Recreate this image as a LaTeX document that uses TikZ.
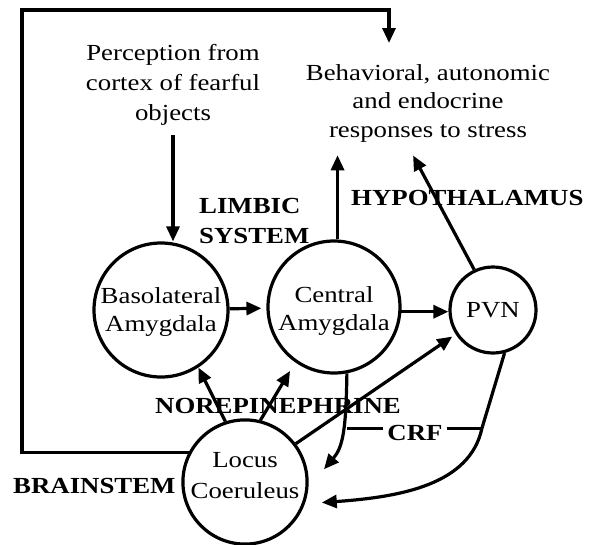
\documentclass[tikz,border=0pt]{standalone}
\usepackage{fontspec}
\setmainfont{Liberation Serif}[FakeStretch=1.165]
\usetikzlibrary{arrows.meta}
\begin{document}
\begin{tikzpicture}[x=1pt,y=-1pt,
  every node/.style={font=\fontsize{23}{28}\selectfont, inner sep=0pt},
  region/.style={circle, draw, line width=3.2pt, align=center},
  heading/.style={font=\fontsize{23}{30}\selectfont\bfseries},
  link/.style={line width=3.2pt},
  arr/.style={link, -{Triangle[length=15pt,width=13pt]}},
]
\useasboundingbox (0,0) rectangle (589,544);

% text blocks
\node[anchor=north, align=center, font=\fontsize{23}{30}\selectfont] (perc) at (173,44)
  {Perception from\\cortex of fearful\\objects};
\node[anchor=north, align=center, font=\fontsize{23}{28.5}\selectfont] (resp) at (428,64)
  {Behavioral, autonomic\\and endocrine\\responses to stress};

% brain regions
\node[region, minimum size=134pt] (ba) at (161,310) {\rule{0pt}{20pt}Basolateral\\Amygdala};
\node[region, minimum size=132pt] (ca) at (334,307) {\rule{0pt}{23.7pt}Central\\Amygdala};
\node[region, minimum size=86pt] (pvn) at (493,310) {PVN};
\node[region, minimum size=122pt, font=\fontsize{23}{31}\selectfont] (lc) at (245,482)
  {Locus\\Coeruleus\rule[-14pt]{0pt}{14pt}};

% system labels
\node[heading, anchor=north west, align=left] (limbic) at (199,198) {LIMBIC\\SYSTEM};
\node[heading, anchor=base west] (hypo) at (351,205) {HYPOTHALAMUS};
\node[heading, anchor=base] (ne) at (278,413) {NOREPINEPHRINE};
\node[heading, anchor=base west] (brain) at (13,493) {BRAINSTEM};
\node[heading, anchor=base, inner xsep=4pt] (crf) at (415,440) {CRF};

% pathways
\draw[arr, shorten <=10pt] (perc.south) -- (perc.south |- ba.north);
\draw[arr, shorten >=5pt] (ba) -- (ca);
\draw[arr] (ca.-4) -- (ca.-4 -| pvn.west);
\draw[arr, shorten >=13pt] (ca.87) -- (ca.87 |- resp.south);
\draw[arr, shorten >=15pt] (pvn.115) -- ([xshift=-22pt]resp.south);

% noradrenergic projections
\draw[arr] (lc.108) -- (ba.-57);
\draw[arr, shorten >=10pt] (lc.76) -- (ca.235);
\draw[arr, shorten >=4pt] (lc.37) -- (pvn.213);

% CRF projections back to the locus coeruleus
\coordinate (pvnbend) at (482,428);
\draw[arr, shorten >=24pt] (ca.-79) .. controls (346,430) and (343,447) .. (lc.-5);
\draw[arr, shorten >=17pt] (pvn.-75) -- (pvnbend) .. controls (470,485) and (400,497) .. (lc.-20);
\draw[link] ([yshift=4pt]crf.west) -- ([yshift=4pt]crf.west -| ca.-79);
\draw[link] ([yshift=4pt]crf.east) -- ([yshift=4pt]crf.east -| pvnbend);

% feedback loop from the brainstem
\coordinate (fbcorner) at (22,10);
\coordinate (fbtip) at (389,43);
\draw[arr] (lc.152) -| (fbcorner) -| (fbtip);
\end{tikzpicture}
\end{document}
